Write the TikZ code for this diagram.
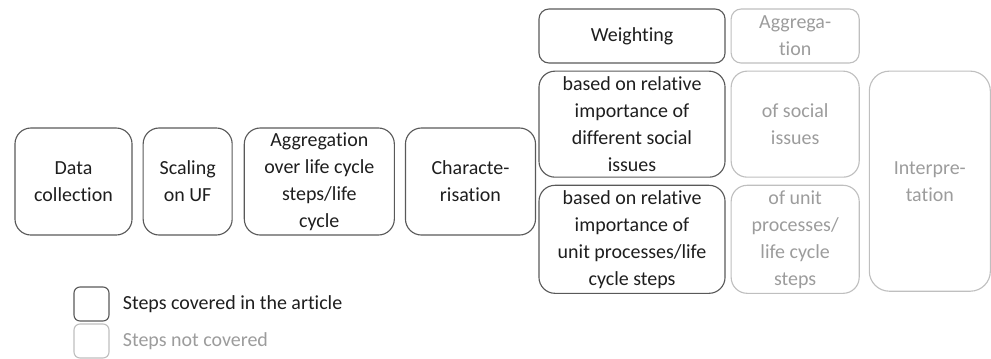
\documentclass[tikz,border=0pt]{standalone}
\usepackage{fontspec}
\setmainfont{Carlito}[Ligatures=NoCommon]
\usepackage{tikz}
\usetikzlibrary{positioning}
\definecolor{Covered}{HTML}{595959}
\definecolor{CoveredText}{HTML}{1E1E1E}
\definecolor{Uncovered}{HTML}{BFBFBF}
\definecolor{UncoveredText}{HTML}{9C9C9C}

\begin{document}
\begin{tikzpicture}[x=0.025cm,y=-0.025cm,font=\fontsize{14.2}{19.2}\selectfont,
  covered/.style={draw=Covered,line width=0.8pt,rounded corners=4mm,text=CoveredText,align=center,inner sep=0pt},
  uncovered/.style={draw=Uncovered,line width=0.8pt,rounded corners=4mm,text=UncoveredText,align=center,inner sep=0pt}]
  \useasboundingbox (0,0) rectangle (991,358);
  % steps in a row
  \node[covered,minimum width=2.925cm,minimum height=2.675cm] (data) at (73.5,181.5) {Data\\collection};
  \node[covered,minimum width=2.225cm,minimum height=2.675cm,right=2.5mm of data] (scal) {Scaling\\on UF};
  \node[covered,minimum width=3.75cm,minimum height=2.675cm,right=2.75mm of scal] (aggr) {Aggregation\\over life cycle\\steps/life\\cycle};
  \node[covered,minimum width=3.25cm,minimum height=2.675cm,right=2.5mm of aggr] (char) {Characte-\\risation};
  % weighting column
  \node[covered,minimum width=4.65cm,minimum height=1.35cm,rounded corners=2.5mm] (wgt) at (632,36) {Weighting};
  \node[covered,minimum width=4.65cm,minimum height=2.65cm,below=1.75mm of wgt] (wsoc) {based on relative\\importance of\\different social\\issues};
  \node[covered,minimum width=4.65cm,minimum height=2.7cm,below=1.75mm of wsoc] (wunit) {based on relative\\importance of\\unit processes/life\\cycle steps};
  % aggregation column
  \node[uncovered,minimum width=3.2cm,minimum height=1.35cm,rounded corners=2.5mm,right=1.25mm of wgt] (agg) {Aggrega-\\tion};
  \node[uncovered,minimum width=3.2cm,minimum height=2.65cm,right=1.25mm of wsoc] (asoc) {of social\\issues};
  \node[uncovered,minimum width=3.2cm,minimum height=2.7cm,right=1.25mm of wunit] (aunit) {of unit\\processes/\\life cycle\\steps};
  \node[uncovered,minimum width=3.025cm,minimum height=5.5cm,rounded corners=5mm,right=2.25mm of asoc.north east,anchor=north west] (intp) {Interpre-\\tation};
  % legend
  \node[covered,minimum width=0.875cm,minimum height=0.85cm,rounded corners=1.5mm] (legc) at (91.5,304) {};
  \node[right=3.25mm of legc,inner sep=0pt,text=CoveredText] (legct) {Steps covered in the article};
  \node[uncovered,minimum width=0.875cm,minimum height=0.85cm,rounded corners=1.5mm] (legn) at (91.5,341) {};
  \node[right=3.25mm of legn,inner sep=0pt,text=UncoveredText] (legnt) {Steps not covered};
\end{tikzpicture}
\end{document}
